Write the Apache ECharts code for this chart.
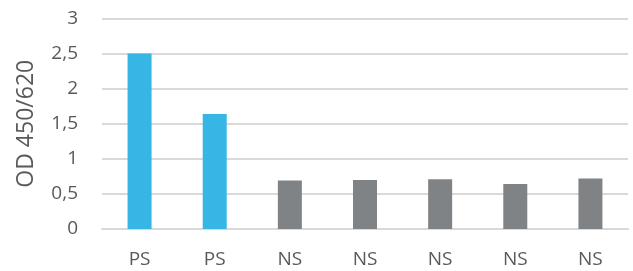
<!DOCTYPE html>
<html>
<head>
<meta charset="utf-8">
<script src="https://cdn.jsdelivr.net/npm/echarts@6/dist/echarts.min.js"></script>
<style>
  html, body { margin: 0; padding: 0; background: #fff; }
  #main { width: 633px; height: 271px; }
</style>
</head>
<body>
<div id="main"></div>
<script>
// 数据
let categories = ['PS', 'PS', 'NS', 'NS', 'NS', 'NS', 'NS']
let values = [2.5, 1.64, 0.69, 0.70, 0.71, 0.64, 0.72]
let groups = ['PS', 'PS', 'NS', 'NS', 'NS', 'NS', 'NS']
let yTicks = [0, 0.5, 1, 1.5, 2, 2.5, 3]

let colorMap = { PS: '#35b6e5', NS: '#808385' }

let ele = echarts.init(document.getElementById('main'), null, { renderer: 'canvas' })
const option = {
    animation: false,
    textStyle: { fontFamily: 'Open Sans' },
    grid: { left: 102, right: 5, top: 18.5, bottom: 42, outerBoundsMode: 'none' },
    xAxis: {
        type: 'category',
        data: categories,
        axisLine: { show: true, lineStyle: { color: '#d9d9d9', width: 2 } },
        axisTick: { show: false },
        axisLabel: { color: '#595959', fontSize: 19, margin: 21 }
    },
    yAxis: {
        type: 'value',
        min: yTicks[0],
        max: yTicks[yTicks.length - 1],
        interval: 0.5,
        name: 'OD 450/620',
        nameLocation: 'middle',
        nameGap: 64,
        nameMoveOverlap: false,
        nameRotate: 90,
        nameTextStyle: { color: '#595959', fontSize: 23 },
        axisLine: { show: false },
        axisTick: { show: false },
        splitLine: { lineStyle: { color: '#d9d9d9', width: 2 } },
        axisLabel: {
            color: '#595959',
            fontSize: 19,
            margin: 24,
            formatter: function (v) { return String(v).replace('.', ',') }
        }
    },
    series: [{
        type: 'bar',
        barWidth: 24,
        data: values.map((v, i) => ({ value: v, itemStyle: { color: colorMap[groups[i]] } }))
    }]
}
ele.setOption(option)
</script>
</body>
</html>
